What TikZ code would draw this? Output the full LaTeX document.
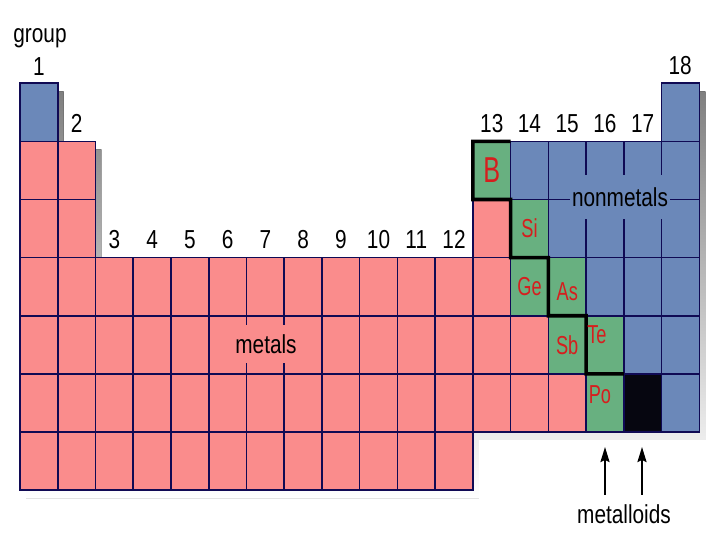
\documentclass[tikz,border=0pt]{standalone}
\usepackage{fontspec}
\newfontfamily\tablefont[FakeStretch=0.8]{Liberation Sans}
\newfontfamily\handfont[FakeStretch=0.7]{Liberation Sans}
\usetikzlibrary{arrows.meta}
\definecolor{metal}{RGB}{250,140,140}
\definecolor{nonmetal}{RGB}{107,136,185}
\definecolor{metalloid}{RGB}{104,176,128}
\definecolor{border}{RGB}{16,10,84}
\definecolor{shade}{RGB}{166,166,166}
\definecolor{ink}{RGB}{214,30,30}
\definecolor{unknown}{RGB}{6,6,16}

\begin{document}
\begin{tikzpicture}[x=1pt, y=-1pt,
		cell/.style={draw=border, line width=1.6pt, rectangle, anchor=north west, minimum width=37.74pt, minimum height=58.1pt, inner sep=0pt, outer sep=0pt},
		grp/.style={font=\tablefont\fontsize{26}{26}\selectfont, anchor=base, inner sep=0pt},
		tag/.style={font=\tablefont\fontsize{26}{26}\selectfont, inner xsep=2pt},
		elem/.style={font=\handfont\fontsize{26}{26}\selectfont, text=ink, inner sep=0pt},
		pointer/.style={-{Stealth[length=15pt, width=9pt, inset=2pt]}, line width=2pt},
		stair/.style={draw=black, line width=3.6pt} ]
		\path[fill=white, use as bounding box] (0,0) rectangle (720,540);

		% shadow under the table
		\fill[shade, shift={(6,8)}] (20,83.3) -- (57.74,83.3) -- (57.74,141.4) -- (95.48,141.4) -- (95.48,257.6) -- (472.88,257.6) -- (472.88,141.4) -- (660.58,141.4) -- (660.58,83.3) -- (699.32,83.3) -- (699.32,431.9) -- (472.88,431.9) -- (472.88,490) -- (20,490) -- cycle;

		\foreach \r in {2,3}
			\foreach \c in {1,2}
				\node[cell, fill=metal] (c\c-\r) at ({20+37.74*(\c-1)},{83.3+58.1*(\r-1)}) {};
		\foreach \r in {4,...,7}
			\foreach \c in {1,...,12}
				\node[cell, fill=metal] (c\c-\r) at ({20+37.74*(\c-1)},{83.3+58.1*(\r-1)}) {};
		\foreach \c/\r/\k in {1/1/nonmetal, 18/1/nonmetal,
				13/2/metalloid, 14/2/nonmetal, 15/2/nonmetal, 16/2/nonmetal, 17/2/nonmetal, 18/2/nonmetal,
				13/3/metal, 14/3/metalloid, 15/3/nonmetal, 16/3/nonmetal, 17/3/nonmetal, 18/3/nonmetal,
				13/4/metal, 14/4/metalloid, 15/4/metalloid, 16/4/nonmetal, 17/4/nonmetal, 18/4/nonmetal,
				13/5/metal, 14/5/metal, 15/5/metalloid, 16/5/metalloid, 17/5/nonmetal, 18/5/nonmetal,
				13/6/metal, 14/6/metal, 15/6/metal, 16/6/metalloid, 17/6/unknown, 18/6/nonmetal}
			\node[cell, fill=\k] (c\c-\r) at ({20+37.74*(\c-1)},{83.3+58.1*(\r-1)}) {};

		% group numbers
		\node[grp] (groupword) at (40,43) {group};
		\node[grp] (g1) at (38.87,76) {1};
		\node[grp] (g2) at (76.61,133) {2};
		\foreach \c in {3,...,12}
			\node[grp] (g\c) at ({20+37.74*(\c-0.5)},248) {\c};
		\foreach \c in {13,...,17}
			\node[grp] (g\c) at ({20+37.74*(\c-0.5)},133) {\c};
		\node[grp] (g18) at (680.2,75) {18};

		\node[tag, fill=nonmetal, inner ysep=12pt] (nonmetals) at (620,197) {nonmetals};
		\node[tag, fill=metal, inner ysep=9pt] (metals) at (266,344) {metals};

		\draw[stair] (c13-2.north east) -- (c13-2.north west) -- (c13-2.south west) -- (c13-2.south east) -- (c14-3.south west) -- (c14-3.south east) -- (c15-4.south west) -- (c15-4.south east) -- (c16-5.south west) -- (c16-5.south east);

		\node[elem, font=\handfont\fontsize{36}{36}\selectfont] (B) at (c13-2) {B};
		\node[elem] (Si) at (c14-3) {Si};
		\node[elem] (Ge) at (c14-4) {Ge};
		\node[elem] (As) at ([yshift=-5pt]c15-4.center) {As};
		\node[elem] (Sb) at (c15-5) {Sb};
		\node[elem] (Te) at ([xshift=-8pt, yshift=10pt]c16-5.center) {Te};
		\node[elem] (Po) at ([xshift=-5pt, yshift=8pt]c16-6.center) {Po};

		\node[tag, anchor=base, inner ysep=9pt] (metalloids) at (624,523) {metalloids};
		\coordinate (poTip) at (605,447);
		\coordinate (atTip) at (642,447);
		\draw[pointer] (metalloids.north -| poTip) -- (poTip);
		\draw[pointer] (metalloids.north -| atTip) -- (atTip);
	\end{tikzpicture}
\end{document}
